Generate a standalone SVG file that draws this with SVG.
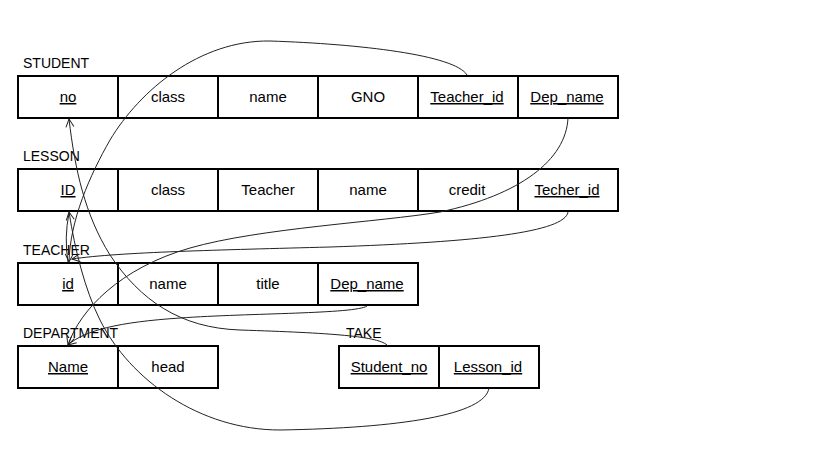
<svg xmlns="http://www.w3.org/2000/svg" width="819" height="460" viewBox="0 0 819 460">
<style>
.cell{fill:#fff;stroke:#000;stroke-width:2}
.t{font-family:"Liberation Sans",Arial,sans-serif;font-size:15px;fill:#000;text-anchor:middle}
.title{font-family:"Liberation Sans",Arial,sans-serif;font-size:14px;fill:#000}
.k{text-decoration:underline}
.c{fill:none;stroke:#222;stroke-width:1}
</style>
<defs>
<marker id="ah" markerWidth="12" markerHeight="12" refX="0" refY="0" viewBox="-10 -6 12 12" orient="auto" markerUnits="userSpaceOnUse">
<path d="M-8,-4 L0,0 L-8,4" fill="none" stroke="#222" stroke-width="1"/>
</marker>
</defs>
<rect width="819" height="460" fill="#fff"/>

<g id="STUDENT">
<text class="title" x="23" y="68">STUDENT</text>
<rect class="cell" x="18" y="76" width="100" height="42"/>
<rect class="cell" x="118" y="76" width="100" height="42"/>
<rect class="cell" x="218" y="76" width="100" height="42"/>
<rect class="cell" x="318" y="76" width="100" height="42"/>
<rect class="cell" x="418" y="76" width="100" height="42"/>
<rect class="cell" x="518" y="76" width="100" height="42"/>
<text class="t k" x="68" y="102">no</text>
<text class="t" x="168" y="102">class</text>
<text class="t" x="268" y="102">name</text>
<text class="t" x="368" y="102">GNO</text>
<text class="t k" x="467" y="102">Teacher_id</text>
<text class="t k" x="567" y="102">Dep_name</text>
</g>

<g id="LESSON">
<text class="title" x="23" y="161">LESSON</text>
<rect class="cell" x="18" y="169" width="100" height="42"/>
<rect class="cell" x="118" y="169" width="100" height="42"/>
<rect class="cell" x="218" y="169" width="100" height="42"/>
<rect class="cell" x="318" y="169" width="100" height="42"/>
<rect class="cell" x="418" y="169" width="100" height="42"/>
<rect class="cell" x="518" y="169" width="100" height="42"/>
<text class="t k" x="68" y="195">ID</text>
<text class="t" x="168" y="195">class</text>
<text class="t" x="268" y="195">Teacher</text>
<text class="t" x="368" y="195">name</text>
<text class="t" x="467" y="195">credit</text>
<text class="t k" x="567" y="195">Techer_id</text>
</g>

<g id="TEACHER">
<text class="title" x="23" y="255">TEACHER</text>
<rect class="cell" x="18" y="263" width="100" height="42"/>
<rect class="cell" x="118" y="263" width="100" height="42"/>
<rect class="cell" x="218" y="263" width="100" height="42"/>
<rect class="cell" x="318" y="263" width="100" height="42"/>
<text class="t k" x="68" y="289">id</text>
<text class="t" x="168" y="289">name</text>
<text class="t" x="268" y="289">title</text>
<text class="t k" x="367" y="289">Dep_name</text>
</g>

<g id="DEPARTMENT">
<text class="title" x="23" y="338">DEPARTMENT</text>
<rect class="cell" x="18" y="346" width="100" height="42"/>
<rect class="cell" x="118" y="346" width="100" height="42"/>
<text class="t k" x="68" y="372">Name</text>
<text class="t" x="168" y="372">head</text>
</g>

<g id="TAKE">
<text class="title" x="346" y="338">TAKE</text>
<rect class="cell" x="339" y="346" width="100" height="42"/>
<rect class="cell" x="439" y="346" width="100" height="42"/>
<text class="t k" x="389" y="372">Student_no</text>
<text class="t k" x="488" y="372">Lesson_id</text>
</g>

<g id="connectors">
<path class="c" marker-end="url(#ah)" d="M467,75 C455,55 360,44 270,41 C200,40 140,90 110,140 C90,175 70,220 69,262"/>
<path class="c" marker-end="url(#ah)" d="M568,118 C566,160 520,195 440,212 C380,222 260,228 190,248 C120,268 80,310 68,345"/>
<path class="c" marker-end="url(#ah)" d="M568,212 C565,232 480,242 330,247 C220,250 120,252 72,259"/>
<path class="c" marker-end="url(#ah)" d="M367,306 C355,314 250,313 180,318 C120,322 85,330 68,345"/>
<path class="c" marker-end="url(#ah)" d="M388,346 C380,336 330,333 240,330 C180,328 140,300 110,255 C85,215 75,170 69,119"/>
<path class="c" marker-end="url(#ah)" d="M489,388 C485,415 400,428 280,430 C200,430 130,380 100,320 C85,290 75,250 69,212"/>
<path class="c" d="M69,213 Q64,238 68,262"/>
</g>
</svg>
